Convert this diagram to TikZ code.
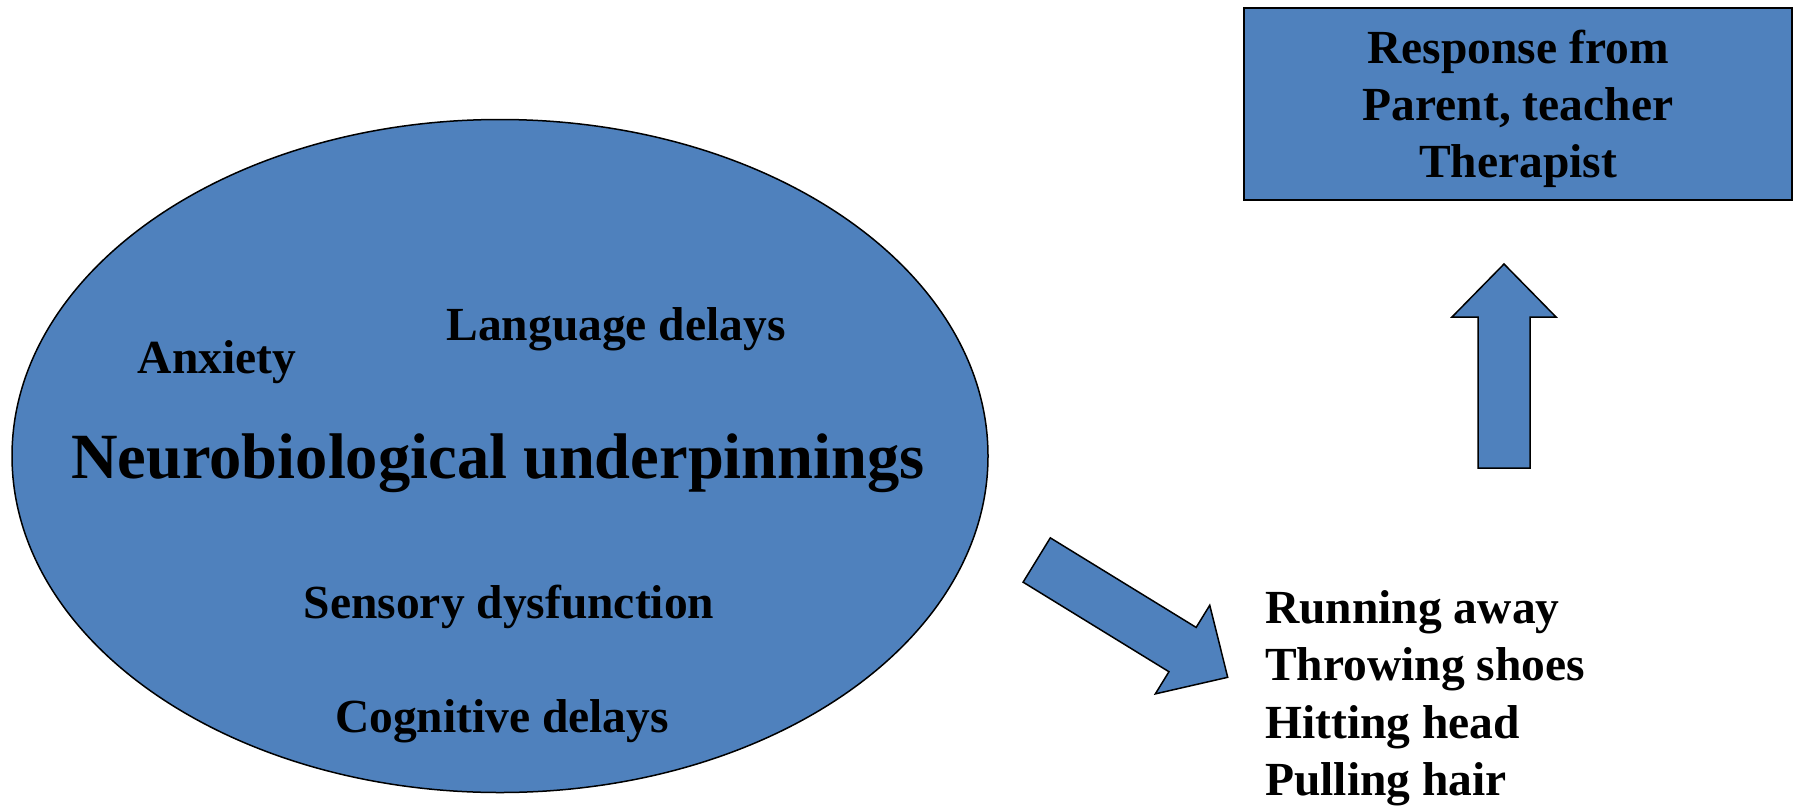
\documentclass[tikz,border=0pt]{standalone}
\usepackage{fontspec}
\setmainfont{Liberation Serif}
\usepackage{tikz}
\usetikzlibrary{positioning, calc, shapes.geometric}
\definecolor{office}{HTML}{4F81BD}
\definecolor{ink}{HTML}{000000}
\tikzset{
  blob/.style    = {ellipse, draw=ink, line width=1.5pt, fill=office,
                    minimum width=976pt, minimum height=673pt, inner sep=0pt},
  biglbl/.style  = {inner sep=0pt, font=\fontsize{64.5}{72}\selectfont\bfseries},
  respbox/.style = {rectangle, draw=ink, line width=2pt, fill=office,
                    minimum width=548pt, minimum height=192pt, text depth=0pt,
                    align=center, font=\fontsize{47.5}{57}\selectfont\bfseries},
  lbl/.style     = {inner sep=0pt, font=\fontsize{47.5}{57}\selectfont\bfseries},
  list/.style    = {inner sep=0pt, align=left,
                    font=\fontsize{47.5}{57.5}\selectfont\bfseries},
  fat/.style     = {draw=ink, fill=office, line width=1.5pt, line join=miter},
}
% block arrow from tail to tip
\newcommand{\fatarrow}[2]{%
  \path ($(#2)!53pt!(#1)$) coordinate (hb);
  \draw[fat] ($(#1)!26pt!90:(#2)$) -- ($(hb)!26pt!-90:(#1)$)
    -- ($(hb)!52pt!-90:(#1)$) -- (#2) -- ($(hb)!52pt!90:(#1)$)
    -- ($(hb)!26pt!90:(#1)$) -- ($(#1)!26pt!-90:(#2)$) -- cycle;
}

\begin{document}
\begin{tikzpicture}[x=1pt, y=-1pt]
  \useasboundingbox (0,0) rectangle (1795,806);

  \node[blob] (brain) at (500,456) {};
  \node[biglbl] (neuro) at (498,463) {Neurobiological underpinnings};
  \node[lbl] (anx)  at (217,362) {Anxiety};
  \node[lbl] (lang) at (616,329) {Language delays};
  \node[lbl] (sens) at (509,607) {Sensory dysfunction};
  \node[lbl] (cogn) at (502,721) {Cognitive delays};

  \node[respbox] (resp) at (1518,104) {Response from\\Parent, teacher\\Therapist};

  \node[list, anchor=north west] (acts) at (1265,590)
       {Running away\\Throwing shoes\\Hitting head\\Pulling hair};

  \coordinate (dtail) at (1036.7,560);
  \coordinate (dtip)  at (1227.7,677.3);
  \coordinate (utail) at (1504,468);
  \coordinate (utip)  at (1504,264);

  \fatarrow{dtail}{dtip}
  \fatarrow{utail}{utip}

\end{tikzpicture}
\end{document}
